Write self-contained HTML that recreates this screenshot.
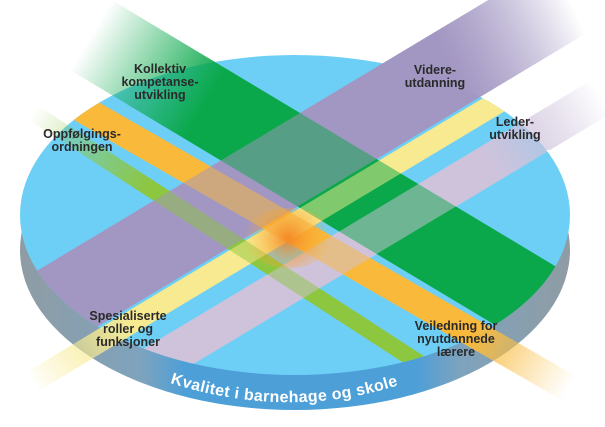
<!DOCTYPE html>
<html><head><meta charset="utf-8"><style>
html,body{margin:0;padding:0;background:#fff;width:605px;height:427px;overflow:hidden}
svg{display:block;overflow:hidden}
.l{font-family:"Liberation Sans Narrow","Liberation Sans",sans-serif;font-weight:bold;font-size:12.5px;fill:#2a2a2a;text-anchor:middle}
</style></head><body>
<svg width="605" height="427" viewBox="0 0 605 427" xmlns="http://www.w3.org/2000/svg">
<defs>
<clipPath id="ce"><ellipse cx="295" cy="215" rx="275" ry="160"/></clipPath>
<clipPath id="cg"><ellipse cx="295" cy="215" rx="275" ry="160"/><rect x="0" y="0" width="230" height="200"/></clipPath>
<clipPath id="co"><ellipse cx="295" cy="215" rx="275" ry="160"/><rect x="440" y="300" width="165" height="127"/></clipPath>
<clipPath id="ct"><ellipse cx="295" cy="215" rx="275" ry="160"/><rect x="0" y="0" width="110" height="200"/></clipPath>
<clipPath id="cp"><ellipse cx="295" cy="215" rx="275" ry="160"/><rect x="340" y="0" width="265" height="112"/></clipPath>
<clipPath id="cy"><ellipse cx="295" cy="215" rx="275" ry="160"/><rect x="0" y="300" width="150" height="127"/></clipPath>
<clipPath id="cl"><ellipse cx="295" cy="215" rx="275" ry="160"/><rect x="470" y="0" width="135" height="150"/></clipPath>
<linearGradient id="rim" x1="0" x2="1" y1="0" y2="0">
<stop offset="0" stop-color="#8f9ca4"/><stop offset="0.22" stop-color="#7ea3bd"/><stop offset="0.3" stop-color="#4d9fd8"/><stop offset="0.72" stop-color="#4d9fd8"/><stop offset="0.8" stop-color="#7ea3bd"/><stop offset="1" stop-color="#8f9ca4"/>
</linearGradient>
<linearGradient id="gG" gradientUnits="userSpaceOnUse" x1="85" y1="45" x2="200" y2="114"><stop offset="0" stop-color="#0aa84a" stop-opacity="0"/><stop offset="1" stop-color="#0aa84a"/></linearGradient>
<linearGradient id="gO" gradientUnits="userSpaceOnUse" x1="470" y1="340" x2="565" y2="395"><stop offset="0" stop-color="#f9b93a"/><stop offset="1" stop-color="#f9c860" stop-opacity="0"/></linearGradient>
<linearGradient id="gT" gradientUnits="userSpaceOnUse" x1="35" y1="110" x2="150" y2="185"><stop offset="0" stop-color="#8dc63f" stop-opacity="0"/><stop offset="1" stop-color="#8dc63f"/></linearGradient>
<linearGradient id="gP" gradientUnits="userSpaceOnUse" x1="445" y1="60" x2="570" y2="0"><stop offset="0" stop-color="#a296c2"/><stop offset="1" stop-color="#a296c2" stop-opacity="0"/></linearGradient>
<linearGradient id="gY" gradientUnits="userSpaceOnUse" x1="140" y1="330" x2="40" y2="395"><stop offset="0" stop-color="#f8ea90"/><stop offset="1" stop-color="#f8ea90" stop-opacity="0"/></linearGradient>
<linearGradient id="gL" gradientUnits="userSpaceOnUse" x1="480" y1="150" x2="595" y2="85"><stop offset="0" stop-color="#cfc3dc"/><stop offset="1" stop-color="#cfc3dc" stop-opacity="0"/></linearGradient>
<radialGradient id="glow" cx="288" cy="238" r="45" gradientUnits="userSpaceOnUse"><stop offset="0" stop-color="#f57f20" stop-opacity="0.9"/><stop offset="1" stop-color="#f9b93a" stop-opacity="0"/></radialGradient>
<g id="slash">
<polygon clip-path="url(#cp)" points="0,293 600,-67 600,25 0,385" fill="url(#gP)"/>
<polygon clip-path="url(#cl)" points="0,435 605,72 605,117 0,480" fill="url(#gL)"/>
<polygon clip-path="url(#cy)" points="0,388 605,25 605,51 0,414" fill="url(#gY)"/>
</g>
</defs>
<ellipse cx="295" cy="250" rx="275" ry="160" fill="url(#rim)"/>
<ellipse cx="295" cy="215" rx="275" ry="160" fill="#6dcff6"/>
<use href="#slash"/>
<polygon clip-path="url(#cg)" points="30,-49 600,293 600,388 30,46" fill="url(#gG)"/>
<polygon clip-path="url(#co)" points="60,80 600,390 600,422 60,112" fill="url(#gO)"/>
<polygon clip-path="url(#ct)" points="20,94 470,386 470,406 20,114" fill="url(#gT)"/>
<use href="#slash" opacity="0.5"/>
<ellipse cx="288" cy="238" rx="45" ry="30" fill="url(#glow)" clip-path="url(#ce)"/>
<text class="l"><tspan x="160" y="73">Kollektiv</tspan><tspan x="160" y="86">kompetanse-</tspan><tspan x="160" y="99">utvikling</tspan></text>
<text class="l"><tspan x="82" y="138">Oppfølgings-</tspan><tspan x="82" y="151">ordningen</tspan></text>
<text class="l"><tspan x="435" y="74">Videre-</tspan><tspan x="435" y="87">utdanning</tspan></text>
<text class="l"><tspan x="515" y="126">Leder-</tspan><tspan x="515" y="139">utvikling</tspan></text>
<text class="l"><tspan x="128" y="320">Spesialiserte</tspan><tspan x="128" y="333">roller og</tspan><tspan x="128" y="346">funksjoner</tspan></text>
<text class="l"><tspan x="456" y="330">Veiledning for</tspan><tspan x="456" y="343">nyutdannede</tspan><tspan x="456" y="356">lærere</tspan></text>
<path id="arc" d="M170,383 Q290,421 402,384" fill="none"/>
<text font-family="Liberation Sans, sans-serif" font-weight="bold" font-size="16" fill="#fff"><textPath href="#arc" textLength="232">Kvalitet i barnehage og skole</textPath></text>
</svg>
</body></html>
